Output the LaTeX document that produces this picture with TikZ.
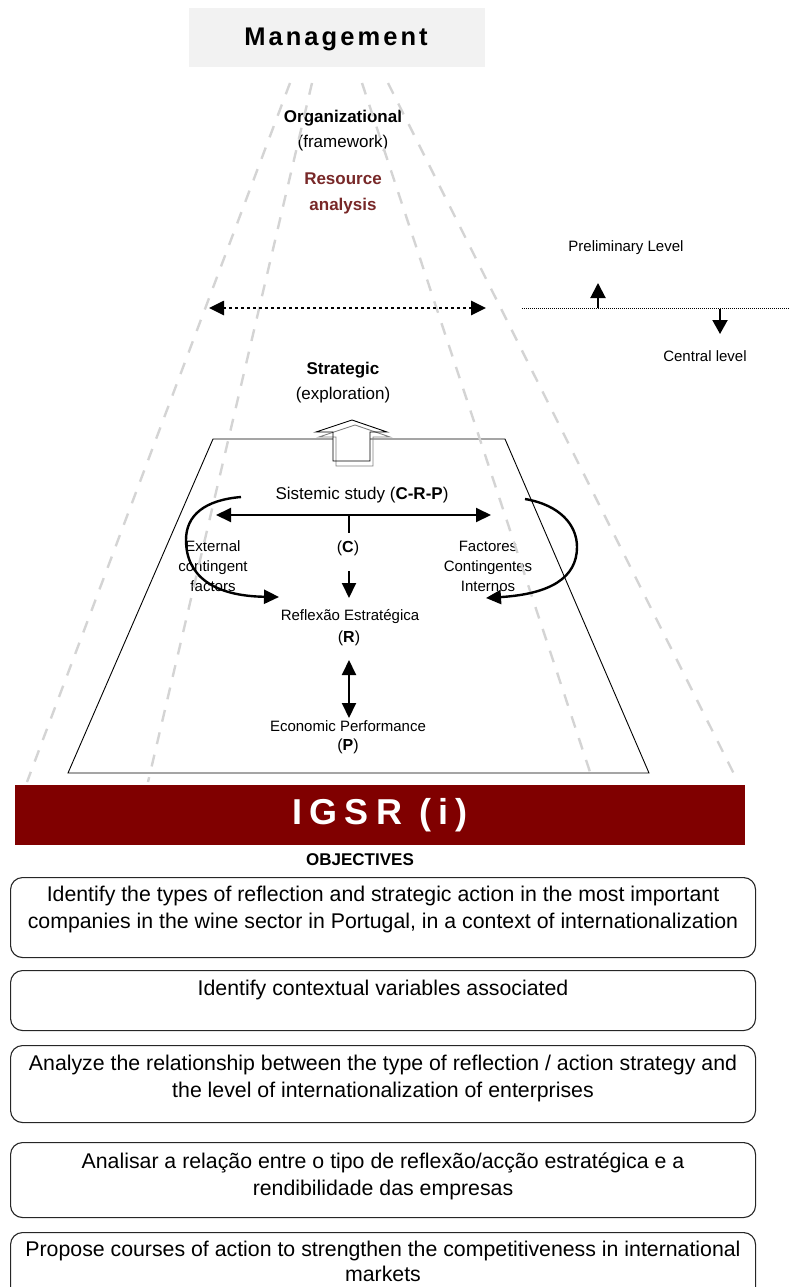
\documentclass[tikz,border=0pt]{standalone}
\usepackage{fontspec}
\setmainfont{Liberation Sans}
\usetikzlibrary{arrows.meta,calc}
\definecolor{bandred}{RGB}{128,0,0}
\definecolor{resred}{RGB}{120,40,40}
\definecolor{dashgray}{RGB}{212,212,212}
\definecolor{mgmtbg}{RGB}{242,242,242}
\begin{document}
\begin{tikzpicture}[x=1pt,y=-1pt,
  every node/.style={inner sep=0pt, align=center},
  lbl/.style={font=\fontsize{15}{20}\selectfont},
  mid/.style={font=\fontsize{17}{21}\selectfont},
  obj/.style={font=\fontsize{21.3}{27}\selectfont},
  objbox/.style={draw=black!85, line width=1.1pt, rounded corners=12pt, minimum width=745pt, anchor=north west},
  fan/.style={draw=dashgray, line width=2.4pt, dash pattern=on 12pt off 11pt},
  arr/.style={line width=2pt, -{Triangle[length=15pt,width=14pt]}},
  darr/.style={line width=2pt, {Triangle[length=15pt,width=14pt]}-{Triangle[length=15pt,width=14pt]}},
]
\useasboundingbox (0,0) rectangle (790,1287);
\clip (0,0) rectangle (790,1287);

% Management header
\node[fill=mgmtbg, minimum width=296pt, minimum height=59pt, anchor=north west] (mbox) at (189,8) {};
\node[font=\fontsize{25.5}{30}\selectfont\bfseries\addfontfeatures{LetterSpace=12}] (mgmt) at (336,39) {Management};

% Upper texts
\node[font=\fontsize{17}{21}\selectfont\bfseries] (org) at (343,118) {Organizational};
\node[mid] (fw) at (343,143) {(framework)};
\node[font=\fontsize{17}{26}\selectfont\bfseries, text=resred] (res) at (343,193) {Resource\\analysis};
\node[font=\fontsize{17}{21}\selectfont\bfseries] (strat) at (343,370) {Strategic};
\node[mid] (expl) at (343,395) {(exploration)};

\node[lbl] (prelim) at (626,248) {Preliminary Level};
\node[lbl] (central) at (705,356) {Central level};

% Trapezoid
\coordinate (t1) at (213,439);
\coordinate (t2) at (505,439);
\coordinate (t3) at (649,773);
\coordinate (t4) at (68,773);
\draw[line width=0.9pt] (t1) -- (t2) -- (t3) -- (t4) -- cycle;

% Inner texts
\node[mid] (sist) at (362,495) {Sistemic study (\textbf{C-R-P})};
\node[font=\fontsize{16}{20}\selectfont] (c) at (348,548) {(\textbf{C})};
\node[lbl] (ext) at (213,566) {External\\contingent\\factors};
\node[lbl] (fac) at (488,566) {Factores\\Contingentes\\Internos};
\node[lbl] (refl) at (350,617) {Reflexão Estratégica};
\node[font=\fontsize{16}{20}\selectfont] (r) at (349,638) {(\textbf{R})};
\node[lbl] (econ) at (348,726) {Economic Performance};
\node[font=\fontsize{16}{20}\selectfont] (p) at (348,746) {(\textbf{P})};

% Fan of dashed lines (drawn over the texts)
\coordinate (f1a) at (290,83);  \coordinate (f1b) at (27,782);
\coordinate (f2a) at (312,83);  \coordinate (f2b) at (148,782);
\coordinate (f3a) at (362,83);  \coordinate (f3b) at (590,772);
\coordinate (f4a) at (388,83);  \coordinate (f4b) at (737,780);
\draw[fan] (f1a) -- (f1b);
\draw[fan] (f2a) -- (f2b);
\draw[fan] (f3a) -- (f3b);
\draw[fan] (f4a) -- (f4b);

% Dotted double arrow
\coordinate (dl) at (209,308);
\coordinate (dr) at (486,308);
\draw[line width=2.6pt, dash pattern=on 3pt off 3pt, {Triangle[length=15pt,width=14pt]}-{Triangle[length=15pt,width=14pt]}] (dl) -- (dr);

% Level line and small arrows
\coordinate (lvA) at (522,308);
\coordinate (lvB) at (790,308);
\draw[line width=0.6pt, dash pattern=on 1pt off 1pt] (lvA) -- (lvB);
\coordinate (upB) at (598,308);
\coordinate (upT) at (598,283);
\draw[line width=2pt, -{Triangle[length=15pt,width=15pt]}] (upB) -- (upT);
\coordinate (dnT) at (720,309);
\coordinate (dnB) at (720,334);
\draw[line width=2pt, -{Triangle[length=14pt,width=15pt]}] (dnT) -- (dnB);

% Hollow block arrow (with grey shadow copy)
\fill[white] (333,461) -- (333,432) -- (316,432) -- (352,420) -- (387,432) -- (370,432) -- (370,461) -- cycle;
\draw[gray, line width=0.9pt, shift={(3,5)}] (333,461) -- (333,432) -- (316,432) -- (352,420) -- (387,432) -- (370,432) -- (370,461) -- cycle;
\draw[black, line width=0.9pt] (333,461) -- (333,432) -- (316,432) -- (352,420) -- (387,432) -- (370,432) -- (370,461) -- cycle;

% Main arrows
\coordinate (hl) at (216,515);
\coordinate (hr) at (491,515);
\coordinate (hm) at (349,515);
\coordinate (cs) at (349,533);
\coordinate (ca) at (349,571);
\coordinate (cb) at (349,598);
\coordinate (ra) at (349,660);
\coordinate (rb) at (349,718);
\draw[darr] (hl) -- (hr);
\draw[line width=2pt] (hm) -- (cs);
\draw[arr] (ca) -- (cb);
\draw[darr] (ra) -- (rb);

% Curved arrows
\coordinate (lcs) at (241,497);
\coordinate (lce) at (279,597);
\draw[line width=2.4pt, -{Triangle[length=15pt,width=14pt]}] (lcs) .. controls (205,500) and (186,515) .. (186,540) .. controls (186,577) and (215,596) .. (lce);
\coordinate (rcs) at (525,499);
\coordinate (rce) at (486,598);
\draw[line width=2.4pt, -{Triangle[length=15pt,width=14pt]}] (rcs) .. controls (560,505) and (577,525) .. (577,547) .. controls (577,578) and (550,594) .. (rce);

% Red band
\node[fill=bandred, minimum width=730pt, minimum height=60pt, anchor=north west] (band) at (15,785) {};
\node[text=white, font=\fontsize{36}{40}\selectfont\bfseries\addfontfeatures{LetterSpace=20}] (igsr) at (380,815) {IGSR (i)};

\node[font=\fontsize{17}{20}\selectfont\bfseries] (objt) at (360,860) {OBJECTIVES};

% Objective boxes
\node[objbox, minimum height=80pt] (o1) at (10,877) {};
\node[obj] (o1t) at (383,909) {Identify the types of reflection and strategic action in the most important\\companies in the wine sector in Portugal, in a context of internationalization};
\node[objbox, minimum height=60pt] (o2) at (10,970) {};
\node[obj] (o2t) at (383,990) {Identify contextual variables associated};
\node[objbox, minimum height=77pt] (o3) at (10,1045) {};
\node[obj] (o3t) at (383,1078) {Analyze the relationship between the type of reflection / action strategy and\\the level of internationalization of enterprises};
\node[objbox, minimum height=75pt] (o4) at (10,1142) {};
\node[obj] (o4t) at (383,1176) {Analisar a relação entre o tipo de reflexão/acção estratégica e a\\rendibilidade das empresas};
\node[objbox, minimum height=80pt] (o5) at (10,1232) {};
\node[obj, font=\fontsize{21.3}{25}\selectfont] (o5t) at (383,1261) {Propose courses of action to strengthen the competitiveness in international\\markets};
\end{tikzpicture}
\end{document}
